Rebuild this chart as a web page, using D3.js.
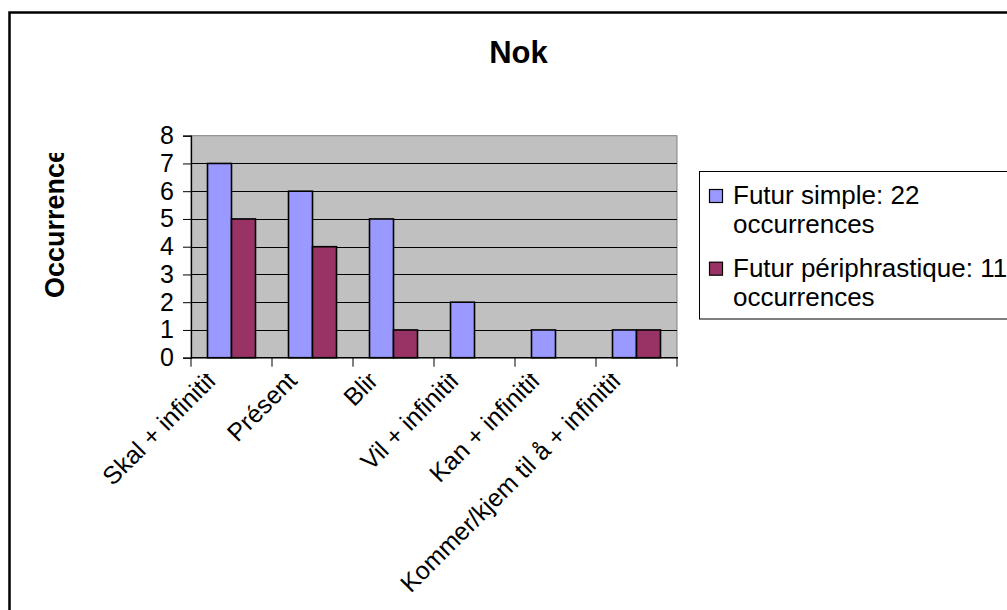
<!DOCTYPE html>
<html>
<head>
<meta charset="utf-8">
<script src="https://cdn.jsdelivr.net/npm/d3@7"></script>
<style>
  html, body { margin: 0; padding: 0; background: #fff; }
  svg { display: block; font-family: "Liberation Sans", Arial, sans-serif; }
</style>
</head>
<body>
<svg id="chart" width="1007" height="610"></svg>
<script>
const title = "Nok";
const yAxisTitle = "Occurrences";
const categories = ["Skal + infinitif", "Présent", "Blir", "Vil + infinitif", "Kan + infinitif", "Kommer/kjem til å + infinitif"];
const seriesNames = ["Futur simple: 22 occurrences", "Futur périphrastique: 11 occurrences"];
const futurSimple = [7, 6, 5, 2, 1, 1];
const futurPeriphrastique = [5, 4, 1, 0, 0, 1];
const yTicks = [0, 1, 2, 3, 4, 5, 6, 7, 8];
const colors = ["#9999FF", "#993366"];

const seriesValues = [futurSimple, futurPeriphrastique];
const svg = d3.select("#chart");

// outer frame
svg.append("rect").attr("x", 9.5).attr("y", 12.5).attr("width", 1100).attr("height", 700)
  .attr("fill", "#fff").attr("stroke", "#000").attr("stroke-width", 2.5);

const plot = { left: 191, right: 677, top: 135.7, bottom: 357.7 };

const x0 = d3.scaleBand().domain(categories).range([plot.left, plot.right]).paddingInner(0).paddingOuter(0);
const x1 = d3.scaleBand().domain(d3.range(seriesNames.length)).range([0, x0.bandwidth()]).paddingInner(0).paddingOuter(0.6875);
const y = d3.scaleLinear().domain([0, 8]).range([plot.bottom, plot.top]);

// plot background
svg.append("rect").attr("x", plot.left).attr("y", plot.top)
  .attr("width", plot.right - plot.left).attr("height", plot.bottom - plot.top)
  .attr("fill", "#C0C0C0").attr("stroke", "#808080").attr("stroke-width", 1);

// gridlines
svg.append("g").selectAll("line").data(yTicks.filter(d => d > 0 && d < 8)).join("line")
  .attr("x1", plot.left).attr("x2", plot.right)
  .attr("y1", d => Math.round(y(d)) + 0.5).attr("y2", d => Math.round(y(d)) + 0.5)
  .attr("stroke", "#000").attr("stroke-width", 1);

// bars
const groups = svg.append("g").selectAll("g").data(categories).join("g")
  .attr("transform", d => `translate(${x0(d)},0)`);
groups.selectAll("rect").data((c, i) => seriesValues.map((vals, s) => ({ s, v: vals[i] })).filter(d => d.v > 0))
  .join("rect")
  .attr("x", d => x1(d.s)).attr("width", x1.bandwidth())
  .attr("y", d => y(d.v)).attr("height", d => y(0) - y(d.v))
  .attr("fill", d => colors[d.s]).attr("stroke", "#000").attr("stroke-width", 1.6);

// y axis
const yAxis = d3.axisLeft(y).tickValues(yTicks).tickSize(8).tickPadding(9).tickFormat(d3.format("d"));
const gy = svg.append("g").attr("transform", `translate(${plot.left},0)`).call(yAxis);
gy.select(".domain").attr("stroke", "#000").attr("stroke-width", 1.3);
gy.selectAll(".tick line").attr("stroke", "#000");
gy.selectAll(".tick text").attr("font-size", 25).attr("font-family", "Liberation Sans, Arial, sans-serif").attr("fill", "#000");

// x axis (ticks at category boundaries)
const boundaries = categories.map(c => x0(c)).concat([plot.right]);
svg.append("line").attr("x1", plot.left).attr("x2", plot.right + 1)
  .attr("y1", plot.bottom).attr("y2", plot.bottom).attr("stroke", "#000").attr("stroke-width", 1.5);
svg.append("g").selectAll("line").data(boundaries).join("line")
  .attr("x1", d => d).attr("x2", d => d).attr("y1", plot.bottom).attr("y2", plot.bottom + 9)
  .attr("stroke", "#000").attr("stroke-width", 1);

// x labels, rotated, clipped at top
svg.append("defs").append("clipPath").attr("id", "xclip")
  .append("rect").attr("x", 0).attr("y", 374).attr("width", 1007).attr("height", 240);
svg.append("g").attr("clip-path", "url(#xclip)").selectAll("text").data(categories).join("text")
  .attr("transform", d => `translate(${x0(d) + x0.bandwidth() / 2 - 14},382) rotate(-45)`)
  .attr("text-anchor", "end").attr("font-size", 25).attr("fill", "#000")
  .text(d => d);

// title
svg.append("text").attr("x", 518.5).attr("y", 63).attr("text-anchor", "middle")
  .attr("font-size", 31).attr("font-weight", "bold").text(title);

// y axis title
svg.append("defs").append("clipPath").attr("id", "yclip")
  .append("rect").attr("x", 0).attr("y", 153).attr("width", 120).attr("height", 300);
svg.append("g").attr("clip-path", "url(#yclip)").append("text")
  .attr("transform", "translate(64,298) rotate(-90)")
  .attr("text-anchor", "start").attr("font-size", 27).attr("font-weight", "bold")
  .text(yAxisTitle);

// legend
const legend = svg.append("g");
legend.append("rect").attr("x", 699.5).attr("y", 171.5).attr("width", 400).attr("height", 147.5)
  .attr("fill", "#fff").attr("stroke", "#000").attr("stroke-width", 1);
const legendItems = legend.selectAll("g").data(seriesNames).join("g")
  .attr("transform", (d, i) => `translate(0,${i * 72.7})`);
legendItems.append("rect").attr("x", 709.5).attr("y", 189.5).attr("width", 13).attr("height", 13)
  .attr("fill", (d, i) => colors[i]).attr("stroke", "#000").attr("stroke-width", 1.2);
legendItems.each(function (d) {
  const parts = [d.slice(0, d.lastIndexOf(" ")), d.slice(d.lastIndexOf(" ") + 1)];
  const t = d3.select(this).append("text").attr("font-size", 26).attr("fill", "#000");
  parts.forEach((p, k) => {
    t.append("tspan").attr("x", 733).attr("y", 204 + k * 29).text(p);
  });
});
</script>
</body>
</html>
